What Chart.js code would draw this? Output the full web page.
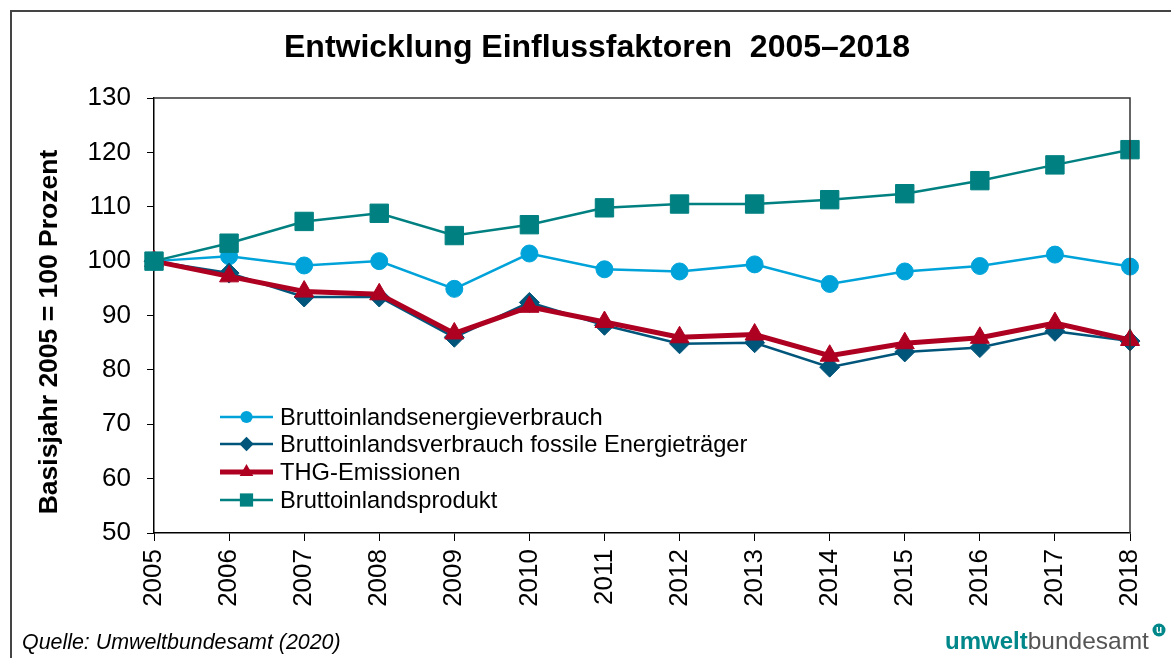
<!DOCTYPE html>
<html>
<head>
<meta charset="utf-8">
<script src="https://cdn.jsdelivr.net/npm/chart.js"></script>
<style>
  html, body { margin: 0; padding: 0; background: #fff; }
  #wrap { position: relative; width: 1171px; height: 658px; overflow: hidden; }
  #frame { position: absolute; left: 10px; top: 10px; width: 1200px; height: 700px; border-left: 2px solid #444; border-top: 2px solid #444; box-sizing: border-box; }
  canvas { position: absolute; left: 0; top: 0; }
</style>
</head>
<body>
<div id="wrap">
  <div id="frame"></div>
  <canvas id="chart" width="1171" height="658"></canvas>
</div>
<script>
// data (Index 2005 = 100)
const years = ['2005', '2006', '2007', '2008', '2009', '2010', '2011', '2012', '2013', '2014', '2015', '2016', '2017', '2018'];
const energy = [100, 100.9, 99.2, 100.0, 94.9, 101.4, 98.5, 98.1, 99.4, 95.8, 98.1, 99.1, 101.2, 99.0];
const fossil = [100, 97.8, 93.4, 93.4, 86.0, 92.4, 88.2, 84.8, 85.0, 80.5, 83.3, 84.1, 87.1, 85.3];
const thg = [100, 97.2, 94.4, 93.9, 86.7, 91.6, 88.8, 86.0, 86.5, 82.6, 84.9, 85.9, 88.6, 85.5];
const bip = [100, 103.3, 107.3, 108.8, 104.7, 106.7, 109.8, 110.5, 110.5, 111.3, 112.4, 114.8, 117.7, 120.5];
const yTicks = [50, 60, 70, 80, 90, 100, 110, 120, 130];

const FONT = '"Liberation Sans", Arial, sans-serif';

function drawMarker(ctx, style, r, x, y) {
    ctx.beginPath();
    if (style === 'circle') {
        ctx.arc(x, y, r, 0, Math.PI * 2);
    } else if (style === 'rectRot') {
        ctx.moveTo(x, y - r); ctx.lineTo(x + r, y); ctx.lineTo(x, y + r); ctx.lineTo(x - r, y);
    } else if (style === 'triangle') {
        ctx.moveTo(x, y - r);
        ctx.lineTo(x + r * 0.866, y + r * 0.5);
        ctx.lineTo(x - r * 0.866, y + r * 0.5);
    } else {
        const s = r * Math.SQRT1_2;
        ctx.rect(x - s, y - s, 2 * s, 2 * s);
    }
    ctx.closePath();
    ctx.fill();
}

const extras = {
    id: 'extras',
    afterDatasetsDraw(chart) {
        const ctx = chart.ctx;
        const a = chart.chartArea;
        ctx.save();
        // top and right border of the plot
        ctx.strokeStyle = '#333';
        ctx.lineWidth = 1.5;
        ctx.beginPath();
        ctx.moveTo(a.left, a.top);
        ctx.lineTo(a.right, a.top);
        ctx.lineTo(a.right, a.bottom);
        ctx.stroke();

        // legend inside the plot
        const rows = [417, 444, 472, 500];
        chart.data.datasets.forEach((ds, k) => {
            const y = rows[k];
            ctx.strokeStyle = ds.borderColor;
            ctx.lineWidth = ds.borderWidth;
            ctx.beginPath();
            ctx.moveTo(220, y);
            ctx.lineTo(273, y);
            ctx.stroke();
            ctx.fillStyle = ds.pointBackgroundColor;
            drawMarker(ctx, ds.pointStyle, ds.pointRadius * 0.72, 246.5, y);
            ctx.fillStyle = '#000';
            ctx.font = '23.7px ' + FONT;
            ctx.textAlign = 'left';
            ctx.textBaseline = 'middle';
            ctx.fillText(ds.label, 280, y + 1);
        });

        // title
        ctx.fillStyle = '#000';
        ctx.font = 'bold 32px ' + FONT;
        ctx.textAlign = 'center';
        ctx.textBaseline = 'middle';
        ctx.fillText('Entwicklung Einflussfaktoren  2005\u20132018', 597, 48);

        // y axis title
        ctx.save();
        ctx.translate(50, 332);
        ctx.rotate(-Math.PI / 2);
        ctx.font = 'bold 26.5px ' + FONT;
        ctx.fillText('Basisjahr 2005 = 100 Prozent', 0, 0);
        ctx.restore();

        // source
        ctx.font = 'italic 21.4px ' + FONT;
        ctx.textAlign = 'left';
        ctx.textBaseline = 'alphabetic';
        ctx.fillText('Quelle: Umweltbundesamt (2020)', 22, 649);

        // logo
        ctx.font = 'bold 24px ' + FONT;
        ctx.fillStyle = '#00878a';
        ctx.fillText('umwelt', 945, 649);
        const w = ctx.measureText('umwelt').width;
        ctx.font = '24.5px ' + FONT;
        ctx.fillStyle = '#555';
        ctx.fillText('bundesamt', 945 + w, 649);
        ctx.fillStyle = '#00878a';
        ctx.beginPath();
        ctx.arc(1159, 630, 6.5, 0, Math.PI * 2);
        ctx.fill();
        ctx.fillStyle = '#fff';
        ctx.font = 'bold 10px ' + FONT;
        ctx.textAlign = 'center';
        ctx.textBaseline = 'middle';
        ctx.fillText('u', 1159, 630);
        ctx.restore();
    }
};

new Chart(document.getElementById('chart'), {
    type: 'line',
    data: {
        labels: years,
        datasets: [
            {
                label: 'Bruttoinlandsenergieverbrauch',
                data: energy,
                borderColor: '#00a3d9',
                backgroundColor: '#00a3d9',
                pointBackgroundColor: '#00a3d9',
                pointBorderColor: '#00a3d9',
                borderWidth: 2.5,
                pointStyle: 'circle',
                pointRadius: 8.5,
                pointBorderWidth: 1,
                order: 3
            },
            {
                label: 'Bruttoinlandsverbrauch fossile Energieträger',
                data: fossil,
                borderColor: '#00557a',
                backgroundColor: '#00557a',
                pointBackgroundColor: '#00557a',
                pointBorderColor: '#00557a',
                borderWidth: 2.5,
                pointStyle: 'rectRot',
                pointRadius: 10,
                pointBorderWidth: 1,
                order: 2
            },
            {
                label: 'THG-Emissionen',
                data: thg,
                borderColor: '#ae0021',
                backgroundColor: '#ae0021',
                pointBackgroundColor: '#ae0021',
                pointBorderColor: '#ae0021',
                borderWidth: 5,
                pointStyle: 'triangle',
                pointRadius: 11,
                pointBorderWidth: 1,
                order: 1
            },
            {
                label: 'Bruttoinlandsprodukt',
                data: bip,
                borderColor: '#008080',
                backgroundColor: '#008080',
                pointBackgroundColor: '#008080',
                pointBorderColor: '#008080',
                borderWidth: 2.5,
                pointStyle: 'rect',
                pointRadius: 13,
                pointBorderWidth: 1,
                order: 0
            }
        ]
    },
    options: {
        responsive: false,
        animation: false,
        layout: { padding: { left: 0, top: 98, right: 41, bottom: 0 } },
        plugins: {
            legend: { display: false },
            tooltip: { enabled: false },
            title: { display: false }
        },
        scales: {
            x: {
                offset: false,
                grid: { display: true, drawOnChartArea: false, drawTicks: true, tickLength: 8, color: '#000', lineWidth: 1 },
                border: { color: '#000', width: 1.5 },
                ticks: {
                    color: '#000',
                    font: { family: FONT, size: 26 },
                    minRotation: 90,
                    maxRotation: 90,
                    padding: 8,
                    autoSkip: false
                },
                afterFit(scale) { scale.height = 125; }
            },
            y: {
                min: 50,
                max: 130,
                afterBuildTicks(scale) { scale.ticks = yTicks.map(v => ({ value: v })); },
                grid: { display: true, drawOnChartArea: false, drawTicks: true, tickLength: 7, color: '#000', lineWidth: 1 },
                border: { color: '#000', width: 1.5 },
                ticks: {
                    color: '#000',
                    font: { family: FONT, size: 26 },
                    padding: 16
                },
                afterFit(scale) { scale.width = 154; }
            }
        }
    },
    plugins: [extras]
});
</script>
</body>
</html>
